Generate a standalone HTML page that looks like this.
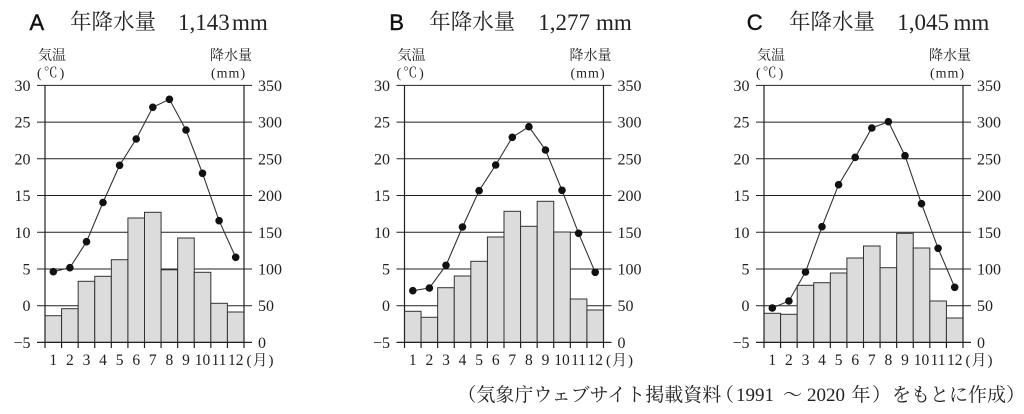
<!DOCTYPE html>
<html><head><meta charset="utf-8"><style>
html,body{margin:0;padding:0;background:#fff;}
svg{display:block;}
.t{font-family:"Liberation Serif","Noto Serif CJK SC",serif;fill:#222;}
.n{font-family:"Liberation Serif",serif;font-size:16px;fill:#222;}
.m{font-family:"Liberation Serif",serif;font-size:15.5px;fill:#222;}
.j{font-family:"Liberation Serif","Noto Serif CJK SC",serif;font-size:14px;fill:#222;}
.s{font-family:"Liberation Sans",sans-serif;font-size:22px;fill:#111;stroke:#111;stroke-width:0.4;}
.bar{fill:#dcdcdc;stroke:#333;stroke-width:1;}
.ln{fill:none;stroke:#333;stroke-width:1.1;}
</style></head><body>
<svg width="1024" height="414" viewBox="0 0 1024 414" xmlns="http://www.w3.org/2000/svg">
<defs>
<g id="grid" stroke="#222" stroke-width="1">
<line x1="-8" y1="85.4" x2="207" y2="85.4"/>
<line x1="-8" y1="122.1" x2="207" y2="122.1"/>
<line x1="-8" y1="158.8" x2="207" y2="158.8"/>
<line x1="-8" y1="195.5" x2="207" y2="195.5"/>
<line x1="-8" y1="232.3" x2="207" y2="232.3"/>
<line x1="-8" y1="269" x2="207" y2="269"/>
<line x1="-8" y1="305.7" x2="207" y2="305.7"/>
</g>
<g id="axes" stroke="#222" stroke-width="1.2">
<line x1="0" y1="85.4" x2="0" y2="348"/>
<line x1="199" y1="85.4" x2="199" y2="348"/>
<line x1="-8" y1="342.4" x2="207" y2="342.4"/>
<line x1="16.58" y1="342.4" x2="16.58" y2="348"/>
<line x1="33.17" y1="342.4" x2="33.17" y2="348"/>
<line x1="49.75" y1="342.4" x2="49.75" y2="348"/>
<line x1="66.33" y1="342.4" x2="66.33" y2="348"/>
<line x1="82.92" y1="342.4" x2="82.92" y2="348"/>
<line x1="99.5" y1="342.4" x2="99.5" y2="348"/>
<line x1="116.08" y1="342.4" x2="116.08" y2="348"/>
<line x1="132.67" y1="342.4" x2="132.67" y2="348"/>
<line x1="149.25" y1="342.4" x2="149.25" y2="348"/>
<line x1="165.83" y1="342.4" x2="165.83" y2="348"/>
<line x1="182.42" y1="342.4" x2="182.42" y2="348"/>
</g>
</defs>

<!-- ===== Chart A ===== -->
<text class="s" x="29.5" y="30">A</text>
<text class="t" x="70" y="29" font-size="21.5">年降水量</text>
<text class="t" x="178" y="30" font-size="23">1,143</text>
<text class="t" x="232" y="30" font-size="23">mm</text>
<g transform="translate(45,0)">
<text class="j" x="-7" y="60">気温</text>
<text class="j" x="-8" y="77.5" letter-spacing="2">(℃)</text>
<text class="j" x="165" y="60">降水量</text>
<text class="j" x="166" y="77.5" font-size="15" letter-spacing="1">(mm)</text>
<use href="#grid"/>
<rect class="bar" x="0" y="315.7" width="16.58" height="26.7"/>
<rect class="bar" x="16.58" y="308.7" width="16.58" height="33.7"/>
<rect class="bar" x="33.17" y="281.3" width="16.58" height="61.1"/>
<rect class="bar" x="49.75" y="276.3" width="16.58" height="66.1"/>
<rect class="bar" x="66.33" y="259.7" width="16.58" height="82.7"/>
<rect class="bar" x="82.92" y="218" width="16.58" height="124.4"/>
<rect class="bar" x="99.5" y="212.3" width="16.58" height="130.1"/>
<rect class="bar" x="116.08" y="269.8" width="16.58" height="72.6"/>
<rect class="bar" x="132.67" y="238" width="16.58" height="104.4"/>
<rect class="bar" x="149.25" y="272.3" width="16.58" height="70.1"/>
<rect class="bar" x="165.83" y="303.3" width="16.58" height="39.1"/>
<rect class="bar" x="182.42" y="312" width="16.58" height="30.4"/>
<use href="#axes"/>
<polyline class="ln" points="8.3,271.7 24.9,267.7 41.5,241.7 58,202.5 74.6,165.3 91.2,139 107.8,107.3 124.4,99.3 141,130 157.5,173.3 174.1,220.7 190.7,257.3"/>
<g fill="#111">
<circle cx="8.3" cy="271.7" r="3.8"/><circle cx="24.9" cy="267.7" r="3.8"/><circle cx="41.5" cy="241.7" r="3.8"/><circle cx="58" cy="202.5" r="3.8"/><circle cx="74.6" cy="165.3" r="3.8"/><circle cx="91.2" cy="139" r="3.8"/><circle cx="107.8" cy="107.3" r="3.8"/><circle cx="124.4" cy="99.3" r="3.8"/><circle cx="141" cy="130" r="3.8"/><circle cx="157.5" cy="173.3" r="3.8"/><circle cx="174.1" cy="220.7" r="3.8"/><circle cx="190.7" cy="257.3" r="3.8"/>
</g>
<g class="n" text-anchor="end">
<text x="-14.5" y="91">30</text><text x="-14.5" y="127.6">25</text><text x="-14.5" y="164.3">20</text><text x="-14.5" y="201">15</text><text x="-14.5" y="237.8">10</text><text x="-14.5" y="274.5">5</text><text x="-14.5" y="311.2">0</text><text x="-14.5" y="347.9">−5</text>
</g>
<g class="n">
<text x="213" y="91">350</text><text x="213" y="127.6">300</text><text x="213" y="164.3">250</text><text x="213" y="201">200</text><text x="213" y="237.8">150</text><text x="213" y="274.5">100</text><text x="213" y="311.2">50</text><text x="213" y="347.9">0</text>
</g>
<g class="m" text-anchor="middle">
<text x="8.3" y="365">1</text><text x="24.9" y="365">2</text><text x="41.5" y="365">3</text><text x="58" y="365">4</text><text x="74.6" y="365">5</text><text x="91.2" y="365">6</text><text x="107.8" y="365">7</text><text x="124.4" y="365">8</text><text x="141" y="365">9</text><text x="157.5" y="365">10</text><text x="174.1" y="365">11</text><text x="190.7" y="365">12</text>
</g>
<text class="t" x="201.5" y="365" font-size="15" letter-spacing="1">(月)</text>
</g>

<!-- ===== Chart B ===== -->
<text class="s" x="389.3" y="30">B</text>
<text class="t" x="429.3" y="29" font-size="21.5">年降水量</text>
<text class="t" x="538.3" y="30" font-size="23">1,277</text>
<text class="t" x="596" y="30" font-size="23">mm</text>
<g transform="translate(404.5,0)">
<text class="j" x="-7" y="60">気温</text>
<text class="j" x="-8" y="77.5" letter-spacing="2">(℃)</text>
<text class="j" x="165" y="60">降水量</text>
<text class="j" x="166" y="77.5" font-size="15" letter-spacing="1">(mm)</text>
<use href="#grid"/>
<rect class="bar" x="0" y="311.3" width="16.58" height="31.1"/>
<rect class="bar" x="16.58" y="317.3" width="16.58" height="25.1"/>
<rect class="bar" x="33.17" y="287.7" width="16.58" height="54.7"/>
<rect class="bar" x="49.75" y="276" width="16.58" height="66.4"/>
<rect class="bar" x="66.33" y="261.3" width="16.58" height="81.1"/>
<rect class="bar" x="82.92" y="237" width="16.58" height="105.4"/>
<rect class="bar" x="99.5" y="211.3" width="16.58" height="131.1"/>
<rect class="bar" x="116.08" y="226.3" width="16.58" height="116.1"/>
<rect class="bar" x="132.67" y="201.3" width="16.58" height="141.1"/>
<rect class="bar" x="149.25" y="232" width="16.58" height="110.4"/>
<rect class="bar" x="165.83" y="299" width="16.58" height="43.4"/>
<rect class="bar" x="182.42" y="310" width="16.58" height="32.4"/>
<use href="#axes"/>
<polyline class="ln" points="8.3,290.7 24.9,288 41.5,265.3 58,227 74.6,190.7 91.2,165 107.8,137.3 124.4,126.7 141,150 157.5,190.3 174.1,233.3 190.7,272.3"/>
<g fill="#111">
<circle cx="8.3" cy="290.7" r="3.8"/><circle cx="24.9" cy="288" r="3.8"/><circle cx="41.5" cy="265.3" r="3.8"/><circle cx="58" cy="227" r="3.8"/><circle cx="74.6" cy="190.7" r="3.8"/><circle cx="91.2" cy="165" r="3.8"/><circle cx="107.8" cy="137.3" r="3.8"/><circle cx="124.4" cy="126.7" r="3.8"/><circle cx="141" cy="150" r="3.8"/><circle cx="157.5" cy="190.3" r="3.8"/><circle cx="174.1" cy="233.3" r="3.8"/><circle cx="190.7" cy="272.3" r="3.8"/>
</g>
<g class="n" text-anchor="end">
<text x="-14.5" y="91">30</text><text x="-14.5" y="127.6">25</text><text x="-14.5" y="164.3">20</text><text x="-14.5" y="201">15</text><text x="-14.5" y="237.8">10</text><text x="-14.5" y="274.5">5</text><text x="-14.5" y="311.2">0</text><text x="-14.5" y="347.9">−5</text>
</g>
<g class="n">
<text x="213" y="91">350</text><text x="213" y="127.6">300</text><text x="213" y="164.3">250</text><text x="213" y="201">200</text><text x="213" y="237.8">150</text><text x="213" y="274.5">100</text><text x="213" y="311.2">50</text><text x="213" y="347.9">0</text>
</g>
<g class="m" text-anchor="middle">
<text x="8.3" y="365">1</text><text x="24.9" y="365">2</text><text x="41.5" y="365">3</text><text x="58" y="365">4</text><text x="74.6" y="365">5</text><text x="91.2" y="365">6</text><text x="107.8" y="365">7</text><text x="124.4" y="365">8</text><text x="141" y="365">9</text><text x="157.5" y="365">10</text><text x="174.1" y="365">11</text><text x="190.7" y="365">12</text>
</g>
<text class="t" x="201.5" y="365" font-size="15" letter-spacing="1">(月)</text>
</g>

<!-- ===== Chart C ===== -->
<text class="s" x="746.7" y="30">C</text>
<text class="t" x="789" y="29" font-size="21.5">年降水量</text>
<text class="t" x="897.3" y="30" font-size="23">1,045</text>
<text class="t" x="953.5" y="30" font-size="23">mm</text>
<g transform="translate(764,0)">
<text class="j" x="-7" y="60">気温</text>
<text class="j" x="-8" y="77.5" letter-spacing="2">(℃)</text>
<text class="j" x="165" y="60">降水量</text>
<text class="j" x="166" y="77.5" font-size="15" letter-spacing="1">(mm)</text>
<use href="#grid"/>
<rect class="bar" x="0" y="313.3" width="16.58" height="29.1"/>
<rect class="bar" x="16.58" y="314.3" width="16.58" height="28.1"/>
<rect class="bar" x="33.17" y="285.3" width="16.58" height="57.1"/>
<rect class="bar" x="49.75" y="282.7" width="16.58" height="59.7"/>
<rect class="bar" x="66.33" y="273" width="16.58" height="69.4"/>
<rect class="bar" x="82.92" y="258" width="16.58" height="84.4"/>
<rect class="bar" x="99.5" y="246" width="16.58" height="96.4"/>
<rect class="bar" x="116.08" y="267.7" width="16.58" height="74.7"/>
<rect class="bar" x="132.67" y="233.3" width="16.58" height="109.1"/>
<rect class="bar" x="149.25" y="248" width="16.58" height="94.4"/>
<rect class="bar" x="165.83" y="301" width="16.58" height="41.4"/>
<rect class="bar" x="182.42" y="318" width="16.58" height="24.4"/>
<use href="#axes"/>
<polyline class="ln" points="8.3,308 24.9,301 41.5,272 58,226.7 74.6,184.7 91.2,157.3 107.8,128 124.4,121.7 141,155.7 157.5,203.7 174.1,248.3 190.7,287.3"/>
<g fill="#111">
<circle cx="8.3" cy="308" r="3.8"/><circle cx="24.9" cy="301" r="3.8"/><circle cx="41.5" cy="272" r="3.8"/><circle cx="58" cy="226.7" r="3.8"/><circle cx="74.6" cy="184.7" r="3.8"/><circle cx="91.2" cy="157.3" r="3.8"/><circle cx="107.8" cy="128" r="3.8"/><circle cx="124.4" cy="121.7" r="3.8"/><circle cx="141" cy="155.7" r="3.8"/><circle cx="157.5" cy="203.7" r="3.8"/><circle cx="174.1" cy="248.3" r="3.8"/><circle cx="190.7" cy="287.3" r="3.8"/>
</g>
<g class="n" text-anchor="end">
<text x="-14.5" y="91">30</text><text x="-14.5" y="127.6">25</text><text x="-14.5" y="164.3">20</text><text x="-14.5" y="201">15</text><text x="-14.5" y="237.8">10</text><text x="-14.5" y="274.5">5</text><text x="-14.5" y="311.2">0</text><text x="-14.5" y="347.9">−5</text>
</g>
<g class="n">
<text x="213" y="91">350</text><text x="213" y="127.6">300</text><text x="213" y="164.3">250</text><text x="213" y="201">200</text><text x="213" y="237.8">150</text><text x="213" y="274.5">100</text><text x="213" y="311.2">50</text><text x="213" y="347.9">0</text>
</g>
<g class="m" text-anchor="middle">
<text x="8.3" y="365">1</text><text x="24.9" y="365">2</text><text x="41.5" y="365">3</text><text x="58" y="365">4</text><text x="74.6" y="365">5</text><text x="91.2" y="365">6</text><text x="107.8" y="365">7</text><text x="124.4" y="365">8</text><text x="141" y="365">9</text><text x="157.5" y="365">10</text><text x="174.1" y="365">11</text><text x="190.7" y="365">12</text>
</g>
<text class="t" x="201.5" y="365" font-size="15" letter-spacing="1">(月)</text>
</g>

<!-- caption -->
<g class="t" font-size="19">
<text x="457.4" y="401">（気象庁ウェブサイト掲載資料</text>
<text x="715" y="401">（</text>
<text x="736" y="401">1991</text>
<text x="783" y="401">～</text>
<text x="807" y="401">2020</text>
<text x="851.5" y="401">年</text>
<text x="872" y="401">）</text>
<text x="892" y="401">をもとに作成）</text>
</g>
</svg>
</body></html>
